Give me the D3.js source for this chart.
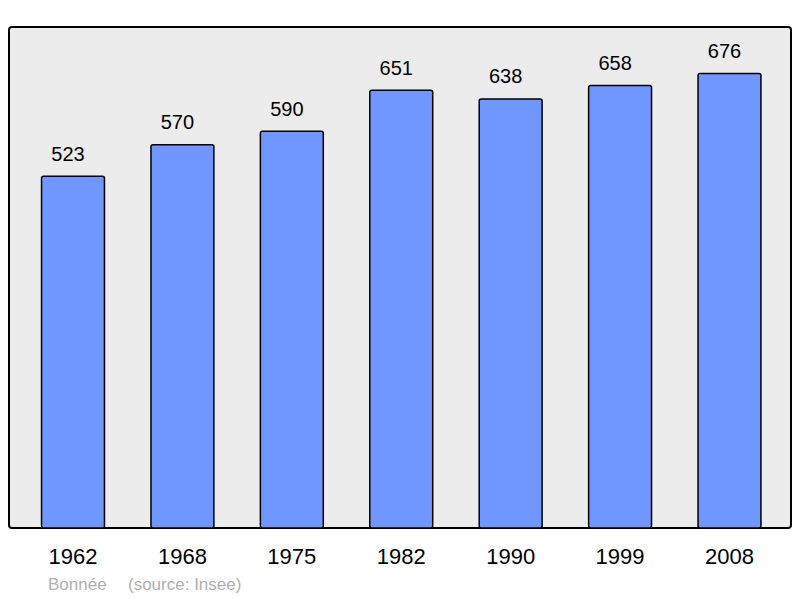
<!DOCTYPE html>
<html><head><meta charset="utf-8">
<script src="https://cdn.jsdelivr.net/npm/d3@7"></script>
<style>body{margin:0;background:#fff}svg{display:block;font-family:"Liberation Sans",Arial,sans-serif}</style>
</head><body>
<svg id="c" width="800" height="598"></svg>
<script>
const years = ["1962","1968","1975","1982","1990","1999","2008"];
const population = [523,570,590,651,638,658,676];
const sourceLabels = ["Bonnée","(source: Insee)"];

const svg = d3.select("#c");
const x = d3.scaleBand().domain(years).range([18.3,784.2]).paddingInner(0.425).paddingOuter(0.2125);
const y = d3.scaleLinear().domain([0,745]).range([528,27]);

svg.append("rect").attr("x",9).attr("y",27).attr("width",782).attr("height",501)
  .attr("rx",3).attr("fill","#ececec").attr("stroke","#000").attr("stroke-width",2);

svg.selectAll("rect.bar").data(population).join("rect").attr("class","bar")
  .attr("x",(d,i)=>x(years[i])).attr("y",d=>y(d))
  .attr("width",x.bandwidth()).attr("height",d=>y(0)-y(d))
  .attr("rx",2).attr("fill","#7096ff").attr("stroke","#000").attr("stroke-width",1.5);

svg.selectAll("text.val").data(population).join("text").attr("class","val")
  .attr("x",(d,i)=>x(years[i])+x.bandwidth()/2-5).attr("y",d=>y(d)-15.5)
  .attr("text-anchor","middle").attr("font-size",20).attr("fill","#000").text(d=>d);

svg.selectAll("text.yr").data(years).join("text").attr("class","yr")
  .attr("x",d=>x(d)+x.bandwidth()/2).attr("y",564)
  .attr("text-anchor","middle").attr("font-size",22).attr("fill","#000").text(d=>d);

svg.append("text").attr("x",48).attr("y",590).attr("font-size",17).attr("fill","#b0b0b0").text(sourceLabels[0]);
svg.append("text").attr("x",128).attr("y",590).attr("font-size",17).attr("fill","#b0b0b0").text(sourceLabels[1]);
</script>
</body></html>
